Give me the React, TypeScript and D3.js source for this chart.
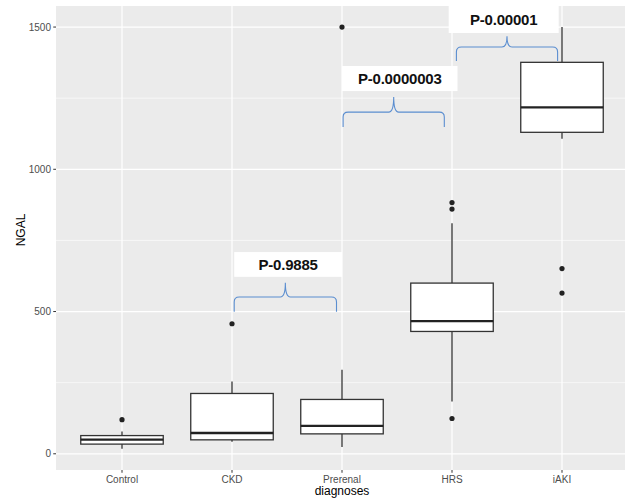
import React from "react";
import * as d3 from "d3";

const categories = ["Control", "CKD", "Prerenal", "HRS", "iAKI"];
const whiskerLow = [18, 42, 24, 184, 1107];
const q1 = [34, 49, 70, 430, 1130];
const median = [50, 73, 98, 466, 1218];
const q3 = [64, 212, 191, 600, 1376];
const whiskerHigh = [78, 254, 295, 810, 1500];
const outliers: number[][] = [[120], [457], [1500], [883, 860, 124], [651, 565]];

const yTicks = [0, 500, 1000, 1500];
const yMinor = [250, 750, 1250];

const annLabels = ["P-0.9885", "P-0.0000003", "P-0.00001"];
const annFrom = ["CKD", "Prerenal", "HRS"];
const annTo = ["Prerenal", "HRS", "iAKI"];
const annBraceEnd = [499, 1149, 1381];
const annBraceBar = [551, 1201, 1430];
const annBraceTip = [601, 1254, 1468];
const annBoxBottom = [622, 1275, 1479];
const annBoxTop = [709, 1363, 1574];

const W = 625;
const H = 502;
const panel = { left: 56, right: 628, top: 6, bottom: 470 };

export default function App() {
  const x = d3
    .scalePoint<string>()
    .domain(categories)
    .range([panel.left, panel.right])
    .padding(0.6);
  const step = x.step();
  const y = d3.scaleLinear().domain([-57, 1574]).range([panel.bottom, panel.top]);
  const bw = step * 0.75;

  const bracePath = (x0: number, x1: number, yEnd: number, yBar: number, yTip: number) => {
    const xc = (x0 + x1) / 2;
    const r = 5;
    return [
      `M${x0},${yEnd}`,
      `L${x0},${yBar + r}`,
      `Q${x0},${yBar} ${x0 + r},${yBar}`,
      `L${xc - r},${yBar}`,
      `Q${xc},${yBar} ${xc},${yTip}`,
      `Q${xc},${yBar} ${xc + r},${yBar}`,
      `L${x1 - r},${yBar}`,
      `Q${x1},${yBar} ${x1},${yBar + r}`,
      `L${x1},${yEnd}`,
    ].join(" ");
  };

  const boxInsetL = [0.02, 0.0, -0.03];
  const boxInsetR = [0.0, 0.05, -0.03];
  const braceInsetL = [0.02, 0.01, 0.04];
  const braceInsetR = [-0.05, -0.07, -0.04];

  return (
    <svg
      width={W}
      height={H}
      style={{ position: "absolute", left: 0, top: 0, background: "#fff" }}
      fontFamily="'Liberation Sans', Arial, sans-serif"
    >
      <defs>
        <clipPath id="pc">
          <rect x={panel.left} y={panel.top} width={panel.right - panel.left} height={panel.bottom - panel.top} />
        </clipPath>
      </defs>
      <rect
        x={panel.left}
        y={panel.top}
        width={panel.right - panel.left}
        height={panel.bottom - panel.top}
        fill="#ebebeb"
      />
      <g clipPath="url(#pc)">
        {yMinor.map((t) => (
          <line key={"mn" + t} x1={panel.left} x2={panel.right} y1={y(t)} y2={y(t)} stroke="#fff" strokeWidth={0.6} />
        ))}
        {yTicks.map((t) => (
          <line key={"mj" + t} x1={panel.left} x2={panel.right} y1={y(t)} y2={y(t)} stroke="#fff" strokeWidth={1.2} />
        ))}
        {categories.map((c) => (
          <line key={"v" + c} x1={x(c)} x2={x(c)} y1={panel.top} y2={panel.bottom} stroke="#fff" strokeWidth={1.2} />
        ))}
        {categories.map((c, i) => {
          const cx = x(c)!;
          return (
            <g key={"b" + c}>
              <line x1={cx} x2={cx} y1={y(whiskerHigh[i])} y2={y(q3[i])} stroke="#333" strokeWidth={1.3} />
              <line x1={cx} x2={cx} y1={y(q1[i])} y2={y(whiskerLow[i])} stroke="#333" strokeWidth={1.3} />
              <rect
                x={cx - bw / 2}
                y={y(q3[i])}
                width={bw}
                height={y(q1[i]) - y(q3[i])}
                fill="#fff"
                stroke="#333"
                strokeWidth={1.3}
              />
              <line x1={cx - bw / 2} x2={cx + bw / 2} y1={y(median[i])} y2={y(median[i])} stroke="#222" strokeWidth={2.3} />
              {outliers[i].map((o, j) => (
                <circle key={j} cx={cx} cy={y(o)} r={2.6} fill="#222" />
              ))}
            </g>
          );
        })}
        {annLabels.map((lab, i) => {
          const bx0 = x(annFrom[i])! + boxInsetL[i] * step;
          const bx1 = x(annTo[i])! + boxInsetR[i] * step;
          const by0 = y(annBoxTop[i]);
          const by1 = y(annBoxBottom[i]);
          const rx0 = x(annFrom[i])! + braceInsetL[i] * step;
          const rx1 = x(annTo[i])! + braceInsetR[i] * step;
          return (
            <g key={"a" + i}>
              <rect x={bx0} y={by0} width={bx1 - bx0} height={by1 - by0} fill="#fff" />
              <text
                x={(bx0 + bx1) / 2}
                y={(by0 + by1) / 2}
                textAnchor="middle"
                dominantBaseline="central"
                fontSize={15}
                fontWeight="bold"
                fill="#111"
                letterSpacing={-0.2}
              >
                {lab}
              </text>
              <path
                d={bracePath(rx0, rx1, y(annBraceEnd[i]), y(annBraceBar[i]), y(annBraceTip[i]))}
                fill="none"
                stroke="#5b8ed0"
                strokeWidth={1.1}
              />
            </g>
          );
        })}
      </g>
      {yTicks.map((t) => (
        <g key={"yt" + t}>
          <line x1={panel.left - 2.75} x2={panel.left} y1={y(t)} y2={y(t)} stroke="#333" strokeWidth={1} />
          <text x={panel.left - 5} y={y(t)} textAnchor="end" dominantBaseline="central" fontSize={10} fill="#4d4d4d">
            {t}
          </text>
        </g>
      ))}
      {categories.map((c) => (
        <g key={"xt" + c}>
          <line x1={x(c)} x2={x(c)} y1={panel.bottom} y2={panel.bottom + 2.75} stroke="#333" strokeWidth={1} />
          <text x={x(c)} y={panel.bottom + 13} textAnchor="middle" fontSize={10} fill="#4d4d4d">
            {c}
          </text>
        </g>
      ))}
      <text x={(panel.left + panel.right) / 2} y={495} textAnchor="middle" fontSize={12} fill="#000">
        diagnoses
      </text>
      <text transform="translate(25,230) rotate(-90)" textAnchor="middle" fontSize={12} fill="#000">
        NGAL
      </text>
    </svg>
  );
}
